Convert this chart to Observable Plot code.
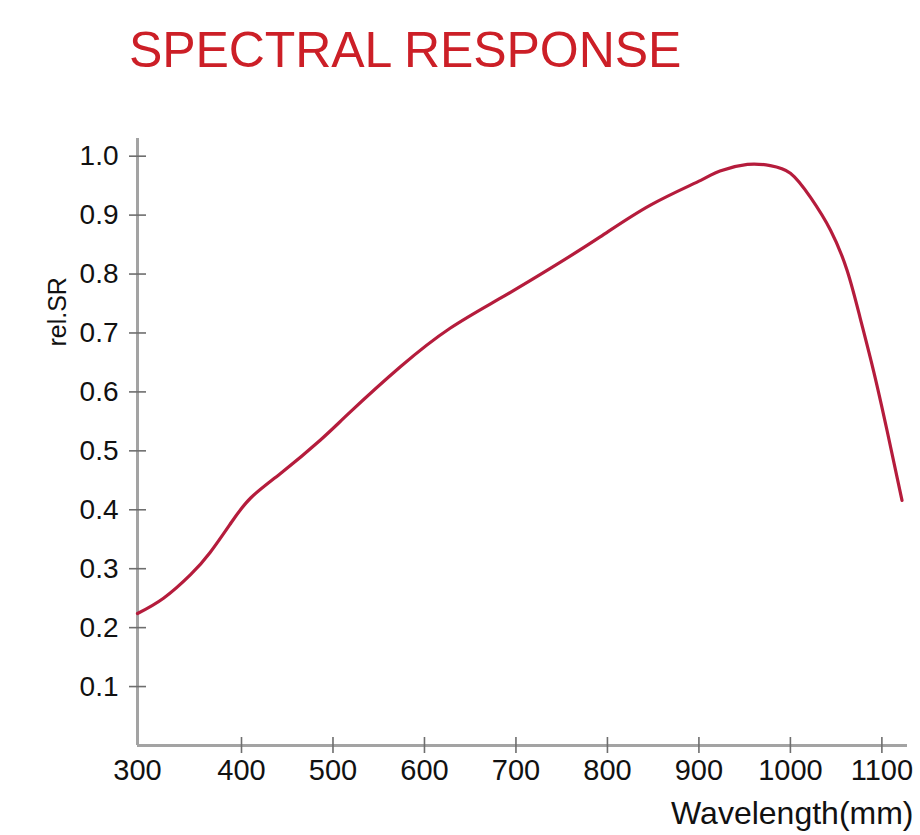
<!DOCTYPE html>
<html>
<head>
<meta charset="utf-8">
<script src="https://cdn.jsdelivr.net/npm/d3@7"></script>
<script src="https://cdn.jsdelivr.net/npm/@observablehq/plot@0.6"></script>
<style>
  html, body { margin: 0; padding: 0; background: #fff; }
  #wrap { position: relative; width: 920px; height: 835px; font-family: "Liberation Sans", Arial, sans-serif; }
  #title { position: relative; height: 100px; }
  #title span { position: absolute; left: 129px; top: 25px; font-size: 50px; line-height: 50px; color: #cc1f27; white-space: nowrap; letter-spacing: -0.1px; }
</style>
</head>
<body>
<div id="wrap">
  <div id="title"><span>SPECTRAL RESPONSE</span></div>
  <div id="chart"></div>
</div>
<script>
// Data
const wavelength = [300, 325, 351, 370, 390, 410, 443, 486, 519, 574, 628, 683, 738, 792, 847, 902, 923, 953, 978, 1000, 1022, 1044, 1062, 1076, 1091, 1106, 1122];
const relSR      = [0.224, 0.250, 0.290, 0.328, 0.378, 0.420, 0.462, 0.518, 0.566, 0.643, 0.708, 0.759, 0.810, 0.863, 0.917, 0.959, 0.975, 0.986, 0.984, 0.971, 0.930, 0.874, 0.806, 0.727, 0.635, 0.532, 0.416];
const xTicks = [400, 500, 600, 700, 800, 900, 1000, 1100];
const xOriginLabel = [300];
const yTicks = [0.1, 0.2, 0.3, 0.4, 0.5, 0.6, 0.7, 0.8, 0.9, 1.0];
const yLabel = "rel.SR";
const xLabel = "Wavelength(mm)";

const data = wavelength.map((w, i) => ({w, v: relSR[i]}));

const axisGray = "#a3a3a3";
const tickGray = "#6e6e6e";
const font = "'Liberation Sans', Arial, sans-serif";

const chart = Plot.plot({
  width: 920,
  height: 735,
  marginLeft: 137,
  marginRight: 13,
  marginTop: 38,
  marginBottom: 90,
  style: {fontFamily: font, color: "#111", background: "#fff", overflow: "visible"},
  x: {type: "linear", domain: [300, 400, 1128], range: [137, 241, 907]},
  y: {domain: [0, 1.03]},
  marks: [
    Plot.ruleX([300], {stroke: axisGray, strokeWidth: 3}),
    Plot.ruleY([0], {stroke: axisGray, strokeWidth: 3}),
    // tick marks crossing the axes
    Plot.axisY(yTicks, {tickSize: 17, dx: 9, stroke: tickGray, strokeWidth: 1.6, tickFormat: () => "", label: null}),
    Plot.axisX(xTicks, {tickSize: 16, dy: -8, stroke: tickGray, strokeWidth: 1.6, tickFormat: () => "", label: null}),
    // tick labels
    Plot.axisY(yTicks, {tickSize: 0, tickPadding: 19, fontSize: 28, tickFormat: d3.format(".1f"), fill: "#111", stroke: "none", label: null}),
    Plot.axisX(xTicks, {tickSize: 0, tickPadding: 14, fontSize: 29, tickFormat: d => String(d), fill: "#111", stroke: "none", label: null}),
    Plot.axisX(xOriginLabel, {tickSize: 0, tickPadding: 14, fontSize: 29, tickFormat: d => String(d), fill: "#111", stroke: "none", label: null}),
    Plot.text([yLabel], {y: [0.677], frameAnchor: "left", dx: -80, rotate: -90, fontSize: 25, fill: "#111", text: d => d}),
    Plot.text([xLabel], {frameAnchor: "bottom-right", dx: 6, dy: 78, textAnchor: "end", lineAnchor: "bottom", fontSize: 32, fill: "#111", text: d => d}),
    Plot.line(data, {x: "w", y: "v", stroke: "#b51c3c", strokeWidth: 3.2, curve: "natural"})
  ]
});
chart.setAttribute("aria-label", "Spectral response chart");
document.getElementById("chart").appendChild(chart);
</script>
</body>
</html>
